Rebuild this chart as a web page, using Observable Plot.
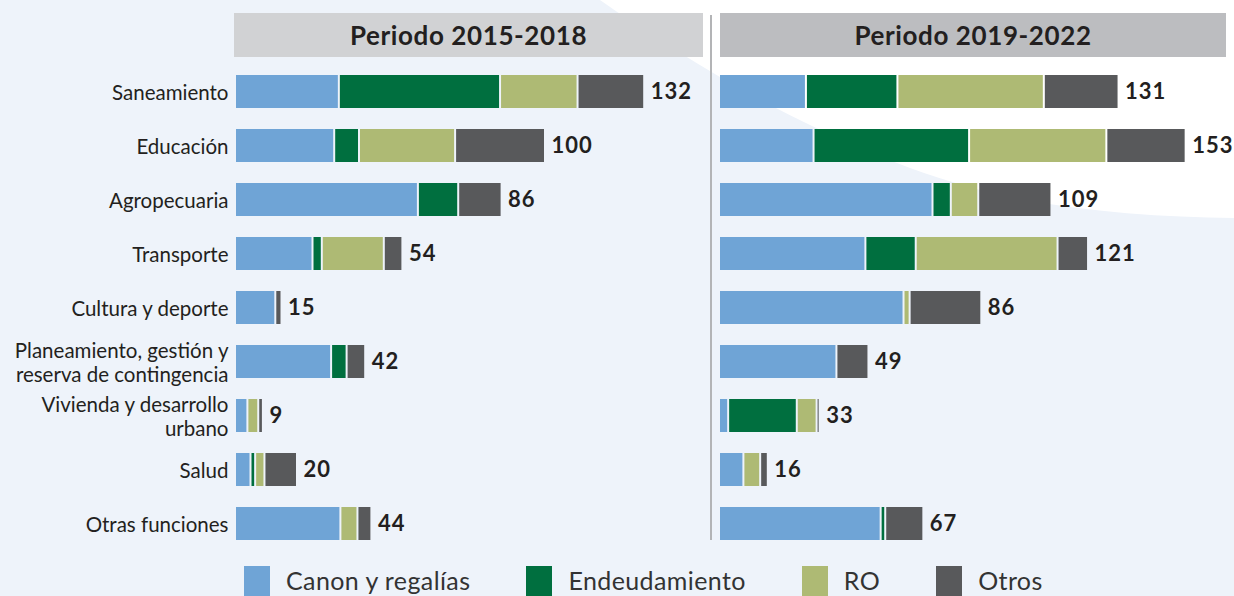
<!DOCTYPE html>
<html>
<head>
<meta charset="utf-8">
<script src="https://cdn.jsdelivr.net/npm/d3@7"></script>
<script src="https://cdn.jsdelivr.net/npm/@observablehq/plot@0.6"></script>
<style>
  body { margin: 0; }
  #root { position: relative; width: 1234px; height: 596px; background: #eef3fa; overflow: hidden; font-family: Lato, "Open Sans", sans-serif; color: #231f20; }
  .hdr { position: absolute; top: 13px; height: 44px; display: flex; align-items: center; justify-content: center; font-weight: bold; font-size: 26px; letter-spacing: 0.6px; color: #231f20; }
  .legend { position: absolute; top: 566px; left: 244px; display: flex; align-items: flex-start; }
  .item { display: flex; align-items: flex-start; margin-right: 56px; }
  .sw { width: 26px; height: 30px; margin-right: 16px; }
  .lbl { font-size: 25px; line-height: 28px; letter-spacing: 0.4px; color: #333; }
  .vals text { letter-spacing: 1px; }
</style>
</head>
<body>
<div id="root">
  <svg width="1234" height="596" style="position:absolute;left:0;top:0">
    <path d="M600,0 C 700,70 850,160 1000,195 C 1080,212 1160,217 1234,218 L1234,0 Z" fill="#ffffff"/>
  </svg>
  <div class="hdr" style="left:234px;width:469px;background:#d1d2d4">Periodo 2015-2018</div>
  <div class="hdr" style="left:720px;width:506px;background:#bcbdc0">Periodo 2019-2022</div>
  <div style="position:absolute;left:710px;top:15px;width:2px;height:525px;background:#b3b4b6"></div>
  <div id="left" style="position:absolute;left:0;top:0"></div>
  <div id="right" style="position:absolute;left:710px;top:0"></div>
  <div class="legend" id="legend"></div>
</div>
<script>
// ---- data ----
const categories = ["Saneamiento", "Educación", "Agropecuaria", "Transporte", "Cultura y deporte",
  "Planeamiento, gestión y reserva de contingencia", "Vivienda y desarrollo urbano", "Salud", "Otras funciones"];
const tickLabels = ["Saneamiento", "Educación", "Agropecuaria", "Transporte", "Cultura y deporte",
  "Planeamiento, gestión y\nreserva de contingencia", "Vivienda y desarrollo\nurbano", "Salud", "Otras funciones"];
const seriesNames = ["Canon y regalías", "Endeudamiento", "RO", "Otros"];
const seriesColors = ["#6fa4d6", "#006f3f", "#aeba74", "#58595b"];

// Periodo 2015-2018
const canon1 = [33.5, 32, 59, 25, 13, 31, 4, 5, 34];
const endeud1 = [52, 8, 13, 3, 0, 5, 0, 1.5, 0];
const ro1 = [25, 31, 0, 20, 0, 0, 3.5, 3, 5.5];
const otros1 = [21.5, 29, 14, 6, 2, 6, 1.5, 10.5, 4.5];
const totals1 = [132, 100, 86, 54, 15, 42, 9, 20, 44];

// Periodo 2019-2022
const canon2 = [28.5, 31, 70, 48, 60.5, 38.5, 3, 8, 53];
const endeud2 = [30, 51, 6, 16.5, 0, 0, 22.5, 0, 1.5];
const ro2 = [48, 45, 9, 46.5, 2, 0, 6.5, 5.5, 0];
const otros2 = [24.5, 26, 24, 10, 23.5, 10.5, 1, 2.5, 12.5];
const totals2 = [131, 153, 109, 121, 86, 49, 33, 16, 67];

function panel(series, totals, o) {
  const data = [];
  categories.forEach((c, i) => {
    seriesNames.forEach((s, k) => {
      const v = series[k][i];
      if (v > 0) data.push({cat: c, series: s, value: v});
    });
  });
  return Plot.plot({
    width: o.width,
    height: 560,
    marginTop: 64,
    marginBottom: 9.5,
    marginLeft: o.marginLeft,
    marginRight: o.marginRight,
    style: {background: "transparent", fontFamily: "Lato, 'Open Sans', sans-serif", fontSize: "20.5px", color: "#231f20"},
    x: {domain: [0, o.xmax], axis: null},
    y: {domain: categories, paddingInner: 0.39, paddingOuter: 0.195, axis: null},
    color: {domain: seriesNames, range: seriesColors},
    marks: [
      o.axis ? Plot.axisY({
        label: null, tickSize: 0, tickPadding: 7, fontSize: 20.5, lineHeight: 1.2, fill: "#231f20",
        tickFormat: d => tickLabels[categories.indexOf(d)]
      }) : null,
      Plot.barX(data, Plot.stackX({x: "value", y: "cat", fill: "series", order: seriesNames, insetLeft: 1, insetRight: 1})),
      Plot.text(categories, {
        x: (d, i) => totals[i], y: d => d, text: (d, i) => String(totals[i]),
        textAnchor: "start", dx: 6, fontSize: 22, fontWeight: "bold", fill: "#231f20", className: "vals"
      })
    ]
  });
}

document.getElementById("left").append(panel([canon1, endeud1, ro1, otros1], totals1,
  {width: 710, marginLeft: 235, marginRight: 710 - 235 - 3.1 * 150, xmax: 150, axis: true}));
document.getElementById("right").append(panel([canon2, endeud2, ro2, otros2], totals2,
  {width: 524, marginLeft: 9, marginRight: 524 - 9 - 3.05 * 165, xmax: 165, axis: false}));

const leg = document.getElementById("legend");
seriesNames.forEach((s, k) => {
  const it = document.createElement("div");
  it.className = "item";
  const sw = document.createElement("div");
  sw.className = "sw";
  sw.style.background = seriesColors[k];
  const lb = document.createElement("div");
  lb.className = "lbl";
  lb.textContent = s;
  it.append(sw, lb);
  leg.append(it);
});
</script>
</body>
</html>
